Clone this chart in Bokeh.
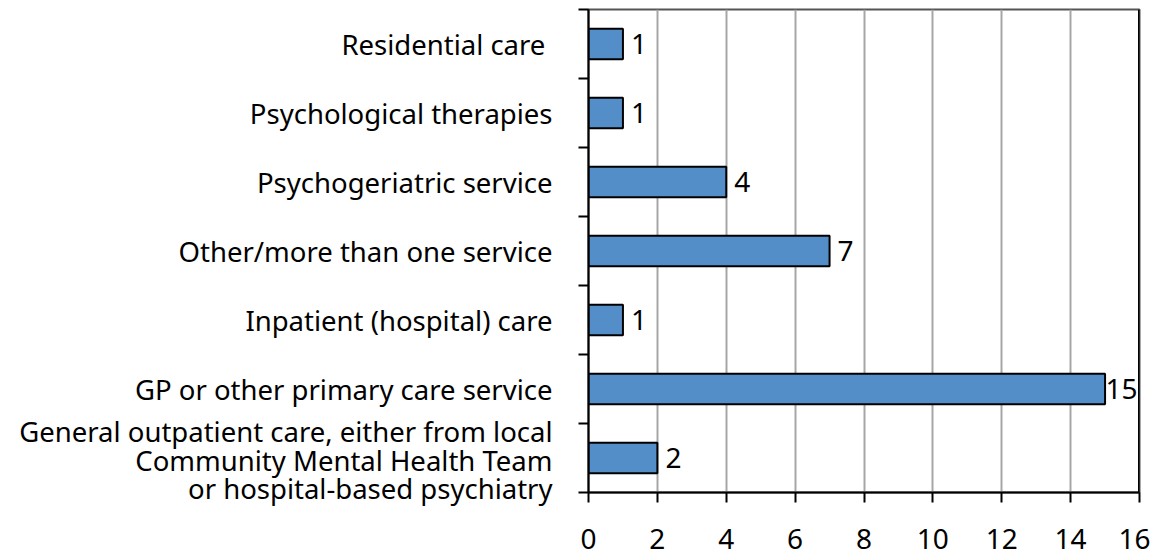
from bokeh.plotting import figure
from bokeh.models import Range1d, FixedTicker, ColumnDataSource, LabelSet, Span
from bokeh.core.properties import value
from bokeh.embed import file_html
from bokeh.resources import INLINE

categories = [
    "Residential care ",
    "Psychological therapies",
    "Psychogeriatric service",
    "Other/more than one service",
    "Inpatient (hospital) care",
    "GP or other primary care service",
    "General outpatient care, either from local\nCommunity Mental Health Team\nor hospital-based psychiatry",
]
values = [1, 1, 4, 7, 1, 15, 2]
x_ticks = [0, 2, 4, 6, 8, 10, 12, 14, 16]

FONT = "Noto Sans"
n = len(categories)
XMAX = 16
FRAME_W = 551
FRAME_H = 483
px_per_unit = FRAME_W / XMAX
py_per_unit = FRAME_H / n
ypos = [n - 0.5 - i for i in range(n)]
offsets = [max(0, min(8, (XMAX - v) * px_per_unit - 34)) for v in values]
src = ColumnDataSource(dict(y=ypos, v=values, lab=[str(v) for v in values], off=offsets))

# category label lines: each line of a multi-line label gets its own tick position
LINE_H = 28.5
label_ticks, label_map = [], {}
for y, c in zip(ypos, categories):
    lines = c.split("\n")
    k = len(lines)
    for j, t in enumerate(lines):
        dy = (((k - 1) / 2 - j) * LINE_H - (2 if k > 1 else 0)) / py_per_unit
        pos = round(y + dy, 6)
        label_ticks.append(pos)
        label_map[pos] = t

p = figure(width=1150, height=556, output_backend="svg", toolbar_location=None,
           x_range=Range1d(0, XMAX), y_range=Range1d(0, n),
           min_border_left=588, min_border_right=1150 - 588 - FRAME_W,
           min_border_top=9, min_border_bottom=556 - 9 - FRAME_H)

p.hbar(y="y", right="v", left=0, height=0.44, source=src,
       fill_color="#548EC9", line_color="black", line_width=2)

p.add_layout(LabelSet(x="v", y="y", text="lab", source=src, x_offset="off",
                      text_baseline="middle", text_font=value(FONT), text_font_size="28px",
                      text_color="black"))

# x axis
p.xaxis.ticker = FixedTicker(ticks=x_ticks)
p.xaxis.axis_line_width = 2
p.xaxis.axis_line_color = "black"
p.xaxis.major_tick_line_width = 2
p.xaxis.major_tick_out = 10
p.xaxis.major_tick_in = 0
p.xaxis.minor_tick_line_color = None
p.xaxis.major_label_text_font = FONT
p.xaxis.major_label_text_font_size = "28px"
p.xaxis.major_label_text_line_height = 0.5
p.xaxis.major_label_text_color = "black"
p.xaxis.major_label_standoff = 26

# y axis
p.yaxis.ticker = FixedTicker(ticks=label_ticks, minor_ticks=list(range(n + 1)))
p.yaxis.major_label_overrides = label_map
p.yaxis.axis_line_width = 2
p.yaxis.axis_line_color = "black"
p.yaxis.major_tick_line_color = None
p.yaxis.major_tick_out = 0
p.yaxis.major_tick_in = 0
p.yaxis.minor_tick_line_width = 2
p.yaxis.minor_tick_line_color = "black"
p.yaxis.minor_tick_out = 10
p.yaxis.minor_tick_in = 0
p.yaxis.major_label_text_font = FONT
p.yaxis.major_label_text_font_size = "27.5px"
p.yaxis.major_label_text_color = "black"
p.yaxis.major_label_standoff = 26
p.yaxis.major_label_text_align = "right"

p.ygrid.grid_line_color = None
p.xgrid.ticker = FixedTicker(ticks=x_ticks)
p.xgrid.grid_line_color = "#A6A6A6"
p.xgrid.grid_line_width = 2

p.outline_line_color = "#555555"
p.outline_line_width = 2
p.add_layout(Span(location=XMAX, dimension="height", line_color="black", line_width=3))

open("out.html", "w").write(file_html(p, INLINE))
